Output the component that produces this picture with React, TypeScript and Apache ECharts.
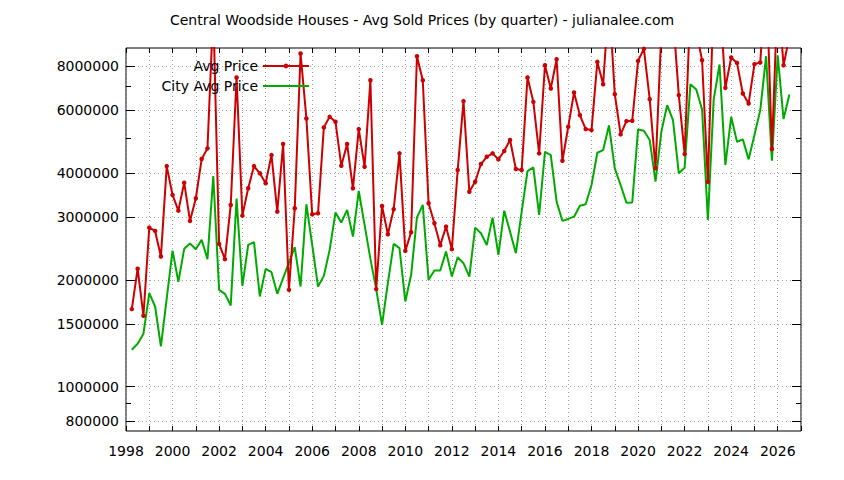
import { useEffect, useRef } from "react";
import * as echarts from "echarts";

// quarterly averages, first point is 1998 Q1 (plotted at 1998.25)
const START_YEAR = 1998;

const avgPrice = [
  1654000, 2150000, 1584000, 2806000, 2747000, 2326000, 4183000, 3469000,
  3133000, 3756000, 2931000, 3395000, 4378000, 4693000, 11500000, 2525000,
  2287000, 3251000, 7433000, 3033000, 3622000, 4183000, 3992000, 3741000,
  4493000, 3113000, 4826000, 1874000, 3182000, 8683000, 5698000, 3060000,
  3080000, 5377000, 5758000, 5576000, 4193000, 4826000, 3622000, 5318000,
  4166000, 7304000, 1883000, 3230000, 2689000, 3161000, 4543000, 2413000,
  2724000, 8532000, 7304000, 3287000, 2887000, 2504000, 2824000, 2440000,
  4077000, 6376000, 3543000, 3780000, 4239000, 4444000, 4543000, 4369000,
  4612000, 4953000, 4104000, 4077000, 7433000, 6347000, 4543000, 8050000,
  6922000, 8368000, 4330000, 5398000, 6745000, 5822000, 5318000, 5284000,
  8224000, 7117000, 12500000, 6671000, 5138000, 5601000, 5613000, 8278000,
  8950000, 6459000, 4123000, 10000000, 12000000, 11100000, 6628000, 4522000,
  12000000, 10000000, 8316000, 3780000, 12900000, 13000000, 6949000, 8461000,
  8171000, 6702000, 6281000, 8104000, 8193000, 15000000, 4672000, 13000000,
  8050000, 9700000,
];

const cityAvgPrice = [
  1271000, 1321000, 1410000, 1835000, 1682000, 1298000, 1772000, 2418000,
  1974000, 2445000, 2530000, 2440000, 2592000, 2287000, 3923000, 1874000,
  1826000, 1693000, 3386000, 1923000, 2508000, 2553000, 1795000, 2147000,
  2102000, 1826000, 2022000, 2237000, 2471000, 1915000, 3266000, 2508000,
  1915000, 2052000, 2429000, 3093000, 2899000, 3147000, 2648000, 3559000,
  2856000, 2291000, 1883000, 1494000, 1957000, 2525000, 2456000, 1738000,
  2066000, 3000000, 3251000, 2000000, 2124000, 2124000, 2402000, 2043000,
  2316000, 2228000, 2043000, 2806000, 2706000, 2508000, 2994000, 2351000,
  3133000, 2734000, 2377000, 3113000, 4051000, 4150000, 3046000, 4591000,
  4493000, 3321000, 2931000, 2969000, 3013000, 3236000, 3266000, 3700000,
  4561000, 4642000, 5447000, 4123000, 3700000, 3299000, 3305000, 5307000,
  5260000, 4953000, 3780000, 5226000, 6213000, 5637000, 3992000, 4139000,
  7117000, 6877000, 6043000, 2950000, 6447000, 8087000, 4211000, 5758000,
  4898000, 4975000, 4369000, 5115000, 6015000, 8532000, 4330000, 8587000,
  5674000, 6658000,
];

const yTicks = [800000, 1000000, 1500000, 2000000, 3000000, 4000000, 6000000, 8000000];
const yMinorTicks = [900000, 5000000, 7000000];
const Y_MIN = 750000;
const Y_MAX = 9000000;
const X_MIN = 1998;
const X_MAX = 2027;

const FONT = "DejaVu Sans";
const RED = "#cc0000";
const GREEN = "#00aa00";

const toPoints = (values: number[]) =>
  values.map((v, i) => [START_YEAR + (i + 1) / 4, v]);

// tick/grid axes drawn in log10 space, data itself sits on the log axis
function tickAxis(position: "left" | "right", values: number[], major: boolean) {
  const logs = values.map((v) => Math.log10(v));
  return {
    type: "value" as const,
    position,
    min: Math.log10(Y_MIN),
    max: Math.log10(Y_MAX),
    axisLine: { show: false },
    axisTick: {
      show: true,
      inside: true,
      length: major ? 9 : 5,
      customValues: logs,
      lineStyle: { color: "#000", width: 1 },
    },
    axisLabel: {
      show: major && position === "left",
      customValues: logs,
      margin: 7,
      color: "#000",
      fontSize: 14,
      fontFamily: FONT,
      formatter: (v: number) => String(Math.round(Math.pow(10, v))),
    },
    splitLine: {
      show: major && position === "left",
      lineStyle: { color: "#a0a0a0", type: [1, 3], width: 1 },
    },
  };
}

export default function App() {
  const ref = useRef<HTMLDivElement>(null);

  useEffect(() => {
    if (!ref.current) return;
    const chart = echarts.init(ref.current, undefined, { renderer: "svg" });

    chart.setOption({
      animation: false,
      backgroundColor: "#fff",
      title: {
        text: "Central Woodside Houses - Avg Sold Prices (by quarter) - julianalee.com",
        left: "center",
        top: 8,
        textStyle: { fontSize: 14, fontWeight: "normal", color: "#000", fontFamily: FONT },
      },
      legend: {
        orient: "vertical",
        align: "right",
        right: 529,
        top: 54,
        itemWidth: 46,
        itemHeight: 6,
        itemGap: 6,
        textStyle: { fontSize: 14, color: "#000", fontFamily: FONT },
        data: [
          { name: "Avg Price" },
          { name: "City Avg Price", itemStyle: { opacity: 0 } },
        ],
      },
      grid: {
        left: 126,
        right: 43,
        top: 48,
        bottom: 49,
        show: true,
        borderColor: "#000",
        borderWidth: 1,
        backgroundColor: "transparent",
      },
      xAxis: [
        {
          type: "value",
          position: "bottom",
          min: X_MIN,
          max: X_MAX,
          interval: 1,
          axisLine: { show: false },
          axisTick: { inside: true, length: 5, lineStyle: { color: "#000" } },
          axisLabel: {
            margin: 13,
            color: "#000",
            fontSize: 14,
            fontFamily: FONT,
            showMinLabel: true,
            showMaxLabel: true,
            formatter: (v: number) => (v % 2 === 0 ? String(v) : ""),
          },
          splitLine: {
            show: true,
            lineStyle: { color: "#a0a0a0", type: [1, 3], width: 1 },
          },
        },
        {
          type: "value",
          position: "top",
          min: X_MIN,
          max: X_MAX,
          interval: 1,
          axisLine: { show: false },
          axisTick: { inside: true, length: 5, lineStyle: { color: "#000" } },
          axisLabel: { show: false },
          splitLine: { show: false },
        },
      ],
      yAxis: [
        { type: "log", logBase: 10, min: Y_MIN, max: Y_MAX, show: false },
        tickAxis("left", yTicks, true),
        tickAxis("left", yMinorTicks, false),
        tickAxis("right", yTicks, true),
        tickAxis("right", yMinorTicks, false),
      ],
      series: [
        {
          name: "Avg Price",
          type: "line",
          xAxisIndex: 0,
          yAxisIndex: 0,
          data: toPoints(avgPrice),
          symbol: "circle",
          symbolSize: 4.5,
          showSymbol: true,
          itemStyle: { color: RED },
          lineStyle: { color: RED, width: 2 },
          z: 3,
        },
        {
          name: "City Avg Price",
          type: "line",
          xAxisIndex: 0,
          yAxisIndex: 0,
          data: toPoints(cityAvgPrice),
          showSymbol: false,
          symbol: "none",
          itemStyle: { color: GREEN },
          lineStyle: { color: GREEN, width: 2 },
          z: 2,
        },
      ],
    });

    return () => chart.dispose();
  }, []);

  return (
    <div
      ref={ref}
      style={{ position: "fixed", left: 0, top: 0, width: 844, height: 480, background: "#fff" }}
    />
  );
}
